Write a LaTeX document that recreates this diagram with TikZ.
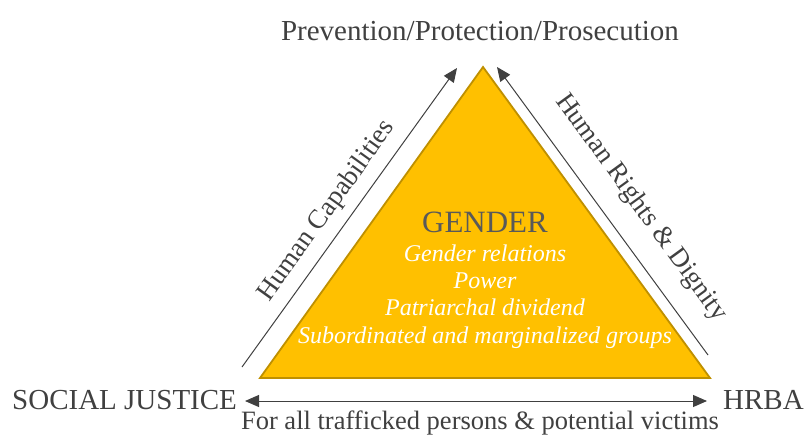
\documentclass[tikz,border=0pt]{standalone}
\usepackage{fontspec}
\setmainfont{Liberation Serif}
\newfontfamily\tms{Liberation Serif}
\usetikzlibrary{arrows.meta}
\definecolor{tri}{HTML}{FFC000}
\definecolor{triedge}{HTML}{BF9000}
\definecolor{txt}{HTML}{404040}
\definecolor{gtxt}{HTML}{595959}
\newcommand{\fsz}[1]{\tms\fontsize{#1}{#1}\selectfont}
\begin{document}
\begin{tikzpicture}[x=1pt,y=-1pt,
  lbl/.style={text=txt, inner sep=0pt},
  inner/.style={text=white, inner sep=0pt, anchor=base, font=\fsz{24}\itshape},
  conn/.style={draw=txt, line width=1pt, -{Triangle[length=14pt,width=12pt]}},
  dconn/.style={draw=txt, line width=1pt, {Triangle[length=14pt,width=12pt]}-{Triangle[length=14pt,width=12pt]}}]
\useasboundingbox (0,0) rectangle (808,437);
% triangle
\coordinate (A) at (483,67);
\coordinate (B) at (260,378);
\coordinate (C) at (710,378);
\filldraw[fill=tri, draw=triedge, line width=1.8pt, line join=miter] (A) -- (B) -- (C) -- cycle;
% texts
\node[lbl, anchor=base, font=\fsz{29}] (top) at (480,40) {Prevention/Protection/Prosecution};
\node[lbl, anchor=base west, font=\fsz{29}] (sj) at (12,409) {SOCIAL JUSTICE};
\node[lbl, anchor=base west, font=\fsz{29}] (hrba) at (723,409) {HRBA};
\node[lbl, anchor=base, font=\fsz{26.5}] (all) at (480,429) {For all trafficked persons \& potential victims};
\node[lbl, text=gtxt, anchor=base, font=\fsz{31}] (gender) at (485,232) {GENDER};
\node[inner] (g1) at (485,261) {Gender relations};
\node[inner] (g2) at (485,288) {Power};
\node[inner] (g3) at (485,315) {Patriarchal dividend};
\node[inner] (g4) at (485,343) {Subordinated and marginalized groups};
\node[lbl, font=\fsz{27}, rotate=54.3] (hc) at (327,211) {Human Capabilities};
\node[lbl, font=\fsz{27}, rotate=-54] (hr) at (641,208) {Human Rights \& Dignity};
% connectors
\coordinate (l0) at (242,367);
\coordinate (l1) at (457,68);
\coordinate (r0) at (708,355);
\coordinate (r1) at (497,67);
\coordinate (b0) at (245,401);
\coordinate (b1) at (707,401);
\draw[conn] (l0) -- (l1);
\draw[conn] (r0) -- (r1);
\draw[dconn] (b0) -- (b1);
\end{tikzpicture}
\end{document}
